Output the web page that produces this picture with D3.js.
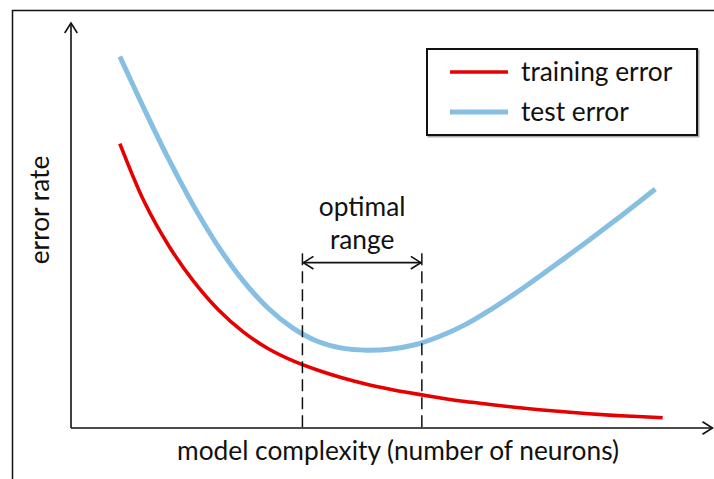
<!DOCTYPE html>
<html>
<head>
<meta charset="utf-8">
<script src="https://cdn.jsdelivr.net/npm/d3@7"></script>
<style>
  html, body { margin: 0; padding: 0; background: #fff; }
  svg { display: block; }
  text { font-family: "Lato", "Open Sans", sans-serif; fill: #111; }
</style>
</head>
<body>
<svg id="chart" width="714" height="479"></svg>
<script>
// Model complexity (arbitrary units) and the two error curves
const complexity = [1, 1.5, 2, 2.5, 3, 3.5, 4, 4.5, 5, 5.5, 6, 6.5, 7, 7.5, 8, 8.5, 9, 9.5, 10, 10.5, 11, 11.5, 12];
const trainingError = [70.1, 55.6, 44.7, 36.0, 29.0, 23.6, 19.5, 16.5, 14.2, 12.3, 10.7, 9.4, 8.3, 7.3, 6.4, 5.7, 5.0, 4.4, 3.9, 3.4, 3.0, 2.7, 2.4];
const testComplexity = [1, 1.5, 2, 2.5, 3, 3.5, 4, 4.5, 5, 5.5, 6, 6.5, 7, 7.5, 8, 8.5, 9, 9.5, 10, 10.5, 11, 11.5, 11.85];
const testError = [91.6, 78.5, 66.0, 54.6, 44.6, 36.2, 29.5, 24.6, 21.3, 19.6, 19.1, 19.4, 20.5, 22.6, 25.4, 29.0, 33.0, 37.3, 41.7, 46.2, 50.8, 55.5, 58.9];

// Optimal range bounds and annotation levels
const optimalRange = [4.7, 7.12];
const rangeTop = 43;
const rangeArrowLevel = 40.7;

const seriesNames = ["training error", "test error"];
const seriesColors = ["#e60000", "#86bfe2"];
const axisTitles = ["model complexity (number of neurons)", "error rate"];
const rangeLabel = ["optimal", "range"];

const fontSize = 26.3;
const svg = d3.select("#chart");

// outer frame
svg.append("rect")
  .attr("x", 12.5).attr("y", 10.5)
  .attr("width", 800).attr("height", 600)
  .attr("fill", "none").attr("stroke", "#111").attr("stroke-width", 1.5);

const x = d3.scaleLinear().domain([0, 13]).range([70.5, 712]);
const y = d3.scaleLinear().domain([0, 100]).range([427.5, 22.5]);

// arrowheads
const defs = svg.append("defs");
defs.append("marker")
  .attr("id", "chev")
  .attr("viewBox", "-11 -7 13 14")
  .attr("refX", 0).attr("refY", 0)
  .attr("markerWidth", 13).attr("markerHeight", 14)
  .attr("markerUnits", "userSpaceOnUse")
  .attr("orient", "auto-start-reverse")
  .append("path")
  .attr("d", "M-10,-6.3L0,0L-10,6.3")
  .attr("fill", "none").attr("stroke", "#111").attr("stroke-width", 1.6);

// axes (domain lines only)
const xAxis = svg.append("g")
  .attr("transform", `translate(0,${y(0)})`)
  .call(d3.axisBottom(x).tickValues([]).tickSizeOuter(0));
const yAxis = svg.append("g")
  .attr("transform", `translate(${x(0)},0)`)
  .call(d3.axisLeft(y).tickValues([]).tickSizeOuter(0));
[xAxis, yAxis].forEach(g => g.select(".domain")
  .attr("stroke", "#111").attr("stroke-width", 1.6)
  .attr("marker-end", "url(#chev)"));

// axis titles
svg.append("text")
  .attr("x", 398).attr("y", 460)
  .attr("text-anchor", "middle")
  .attr("font-size", fontSize)
  .text(axisTitles[0]);
svg.append("text")
  .attr("transform", `translate(49,210) rotate(-90)`)
  .attr("text-anchor", "middle")
  .attr("font-size", fontSize)
  .text(axisTitles[1]);

// curves
const line = d3.line().curve(d3.curveCatmullRom.alpha(0.5));
svg.append("path")
  .attr("d", line(complexity.map((c, i) => [x(c), y(trainingError[i])])))
  .attr("fill", "none").attr("stroke", seriesColors[0]).attr("stroke-width", 3.6);
svg.append("path")
  .attr("d", line(testComplexity.map((c, i) => [x(c), y(testError[i])])))
  .attr("fill", "none").attr("stroke", seriesColors[1]).attr("stroke-width", 5);

// optimal range: dashed bounds
svg.selectAll(".bound").data(optimalRange).enter().append("line")
  .attr("class", "bound")
  .attr("x1", d => x(d)).attr("x2", d => x(d))
  .attr("y1", y(rangeTop)).attr("y2", y(0))
  .attr("stroke", "#111").attr("stroke-width", 1.5)
  .attr("stroke-dasharray", "12,6");

// double-headed arrow
svg.append("line")
  .attr("x1", x(optimalRange[0]) + 1).attr("x2", x(optimalRange[1]) - 1)
  .attr("y1", y(rangeArrowLevel)).attr("y2", y(rangeArrowLevel))
  .attr("stroke", "#111").attr("stroke-width", 1.6)
  .attr("marker-start", "url(#chev)")
  .attr("marker-end", "url(#chev)");

svg.selectAll(".rangeLabel").data(rangeLabel).enter().append("text")
  .attr("x", d3.mean(optimalRange.map(x)))
  .attr("y", (d, i) => 216 + i * 33)
  .attr("text-anchor", "middle")
  .attr("font-size", fontSize)
  .text(d => d);

// legend
const legend = svg.append("g");
legend.append("rect")
  .attr("x", 428.5).attr("y", 50.5).attr("width", 270).attr("height", 86)
  .attr("fill", "none").attr("stroke", "#aaa").attr("stroke-width", 2);
legend.append("rect")
  .attr("x", 427).attr("y", 49).attr("width", 270).attr("height", 86)
  .attr("fill", "#fff").attr("stroke", "#111").attr("stroke-width", 2);
seriesNames.forEach((name, i) => {
  const ly = 72 + i * 40;
  legend.append("line")
    .attr("x1", 450).attr("x2", 508).attr("y1", ly).attr("y2", ly)
    .attr("stroke", seriesColors[i]).attr("stroke-width", i === 0 ? 3.6 : 5);
  legend.append("text")
    .attr("x", 521).attr("y", ly + 8.5)
    .attr("font-size", fontSize)
    .text(name);
});
</script>
</body>
</html>
